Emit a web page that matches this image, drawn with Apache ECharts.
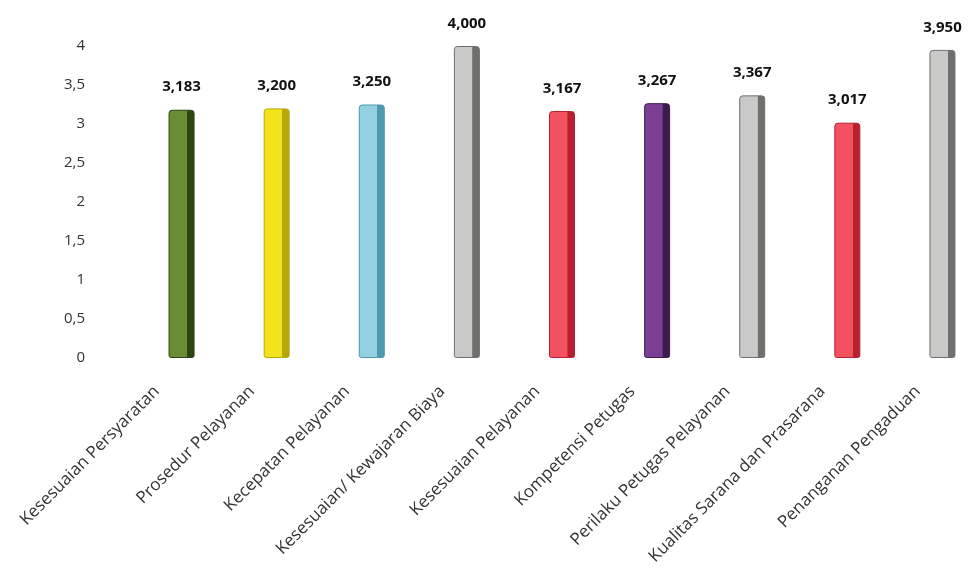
<!DOCTYPE html>
<html><head><meta charset="utf-8">
<script src="https://cdn.jsdelivr.net/npm/echarts@6/dist/echarts.min.js"></script>
<style>html,body{margin:0;padding:0;background:#fff}#c{width:972px;height:573px}</style>
</head><body><div id="c"></div>
<script>
const categories = ['Kesesuaian Persyaratan','Prosedur Pelayanan','Kecepatan Pelayanan','Kesesuaian/ Kewajaran Biaya','Kesesuaian Pelayanan','Kompetensi Petugas','Perilaku Petugas Pelayanan','Kualitas Sarana dan Prasarana','Penanganan Pengaduan'];
const values = [3.183, 3.200, 3.250, 4.000, 3.167, 3.267, 3.367, 3.017, 3.950];
const yTicks = ['0','0,5','1','1,5','2','2,5','3','3,5','4'];
const barColors = ['#6a8c35','#f3e21e','#93d0e2','#c9cac8','#f2525f','#7a3f92','#c9cac8','#f2525f','#c9cac8'];
const barDark = ['#2f4415','#b9a80a','#4f97ad','#6f706e','#b8202f','#3e1a52','#6f706e','#b8202f','#6f706e'];

const chart = echarts.init(document.getElementById('c'));
const font = '"Open Sans", sans-serif';
chart.setOption({
  animation:false,
  grid:{left:134,width:856,top:46,height:312,containLabel:false,outerBoundsMode:'none'},
  xAxis:{type:'category',data:categories,
    axisLine:{show:false},axisTick:{show:false},
    axisLabel:{rotate:45,interval:0,margin:6,padding:[0,35,30,0],color:'#333',fontSize:17,fontFamily:font}},
  yAxis:{type:'value',min:0,max:4,interval:0.5,
    axisLine:{show:false},axisTick:{show:false},splitLine:{show:false},
    axisLabel:{margin:49,color:'#333',fontSize:15,fontFamily:font,
      formatter:(v)=>yTicks[Math.round(v*2)]}},
  series:[{type:'bar',barWidth:26,
    data:values.map((v,i)=>({value:v,itemStyle:{
      color:new echarts.graphic.LinearGradient(0,0,1,0,[
        {offset:0,color:barColors[i]},{offset:0.7,color:barColors[i]},
        {offset:0.72,color:barDark[i]},{offset:1,color:barDark[i]}]),
      borderColor:barDark[i],borderWidth:1,borderRadius:[3,3,2,2]}})),
    label:{show:true,position:'top',distance:15,color:'#111',fontWeight:'bold',fontSize:15,fontFamily:font,
      formatter:(p)=>p.value.toFixed(3).replace('.',',')}}]
});
</script></body></html>
